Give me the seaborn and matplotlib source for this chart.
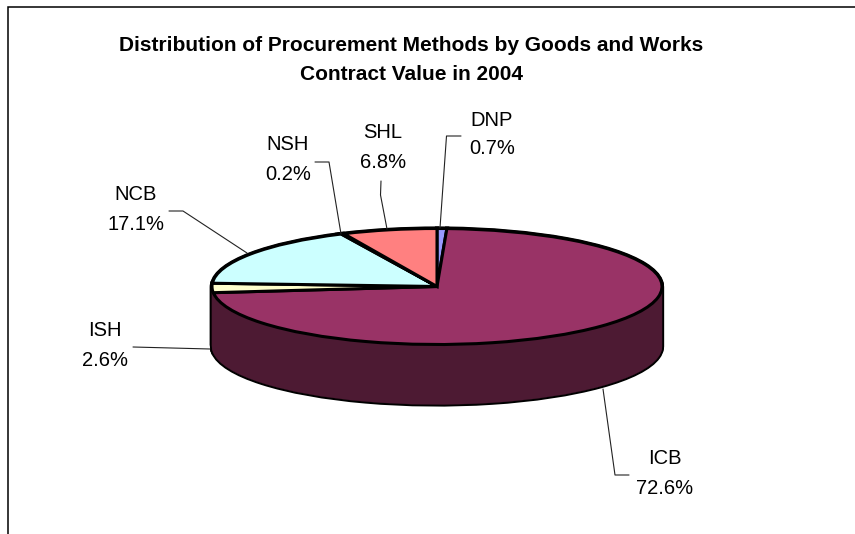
import matplotlib
matplotlib.use("Agg")
import matplotlib.pyplot as plt
import seaborn as sns

sns.set_theme(style="white")
plt.rcParams["font.family"] = ["Liberation Sans", "DejaVu Sans"]

title_lines = ["Distribution of Procurement Methods by Goods and Works",
               "Contract Value in 2004"]
methods = ["DNP", "ICB", "ISH", "NCB", "NSH", "SHL"]
shares = [0.7, 72.6, 2.6, 17.1, 0.2, 6.8]
top_colors = ["#9999FF", "#993366", "#FFFFCC", "#CCFFFF", "#660066", "#FF8080"]
side_colors = ["#4D1A33"] * 6

W, H = 855, 534
fig = plt.figure(figsize=(W / 100, H / 100), dpi=100, facecolor="white")

# layout in pixels of the picture
cx, cy, rx, ry, depth = 437, 286.5, 225, 58, 60
ax = fig.add_axes([(cx - rx) / W, 1 - (cy + ry + depth) / H,
                   2 * rx / W, (2 * ry + depth) / H])


def disc(y, colors, edge=None, lw=0.0, z=1.0):
    wedges, _ = ax.pie(shares, colors=colors, startangle=90, counterclock=False,
                       radius=1, center=(0, y), wedgeprops=dict(clip_on=False))
    for wedge, color in zip(wedges, colors):
        wedge.set_edgecolor(edge if edge else color)
        wedge.set_linewidth(lw)
        wedge.set_zorder(z)


drop = depth / ry
steps = int(depth)
for i in range(steps + 1):
    disc(-drop * (steps - i) / steps, ["black"] * 6, edge="black", lw=3.0, z=1.0)
for i in range(steps + 1):
    disc(-drop * (steps - i) / steps, side_colors, lw=0.2, z=1.1)
disc(0, top_colors, edge="black", lw=2.2, z=2.0)

ax.set_aspect("auto")
ax.set_xlim(-1, 1)
ax.set_ylim(-1 - drop, 1)
ax.axis("off")

overlay = fig.add_axes([0, 0, 1, 1], facecolor="none")
overlay.set_xlim(0, W)
overlay.set_ylim(H, 0)
overlay.axis("off")

# frame: left and top only
overlay.plot([7.5, 7.5, W], [H, 6.5, 6.5], color="black", lw=1.1, solid_joinstyle="miter")

leaders = {
    "DNP": [(440, 228), (446.5, 136), (461, 136)],
    "ICB": [(603, 389), (615, 475), (629, 475)],
    "ISH": [(210, 349), (133, 347)],
    "NCB": [(247, 253), (183, 211), (169, 211)],
    "NSH": [(341, 234), (329, 162), (315, 162)],
    "SHL": [(387, 229), (380.5, 195), (381, 181)],
}
label_pos = {
    "DNP": (492, 120, 149),
    "ICB": (665, 459, 489),
    "ISH": (105, 330, 360),
    "NCB": (136, 194, 224),
    "NSH": (288, 145, 175),
    "SHL": (383, 132, 162),
}
for name, share in zip(methods, shares):
    xs, ys = zip(*leaders[name])
    overlay.plot(xs, ys, color="#222222", lw=0.8)
    x, y1, y2 = label_pos[name]
    overlay.text(x, y1, name, ha="center", va="center", fontsize=14.5, color="black")
    overlay.text(x, y2, f"{share:.1f}%", ha="center", va="center", fontsize=14.5, color="black")

overlay.text(411, 45.5, title_lines[0], ha="center", va="center", fontsize=15,
             fontweight="bold", color="black")
overlay.text(411, 74.5, title_lines[1], ha="center", va="center", fontsize=15,
             fontweight="bold", color="black")

fig.savefig("out.png", dpi=100)
